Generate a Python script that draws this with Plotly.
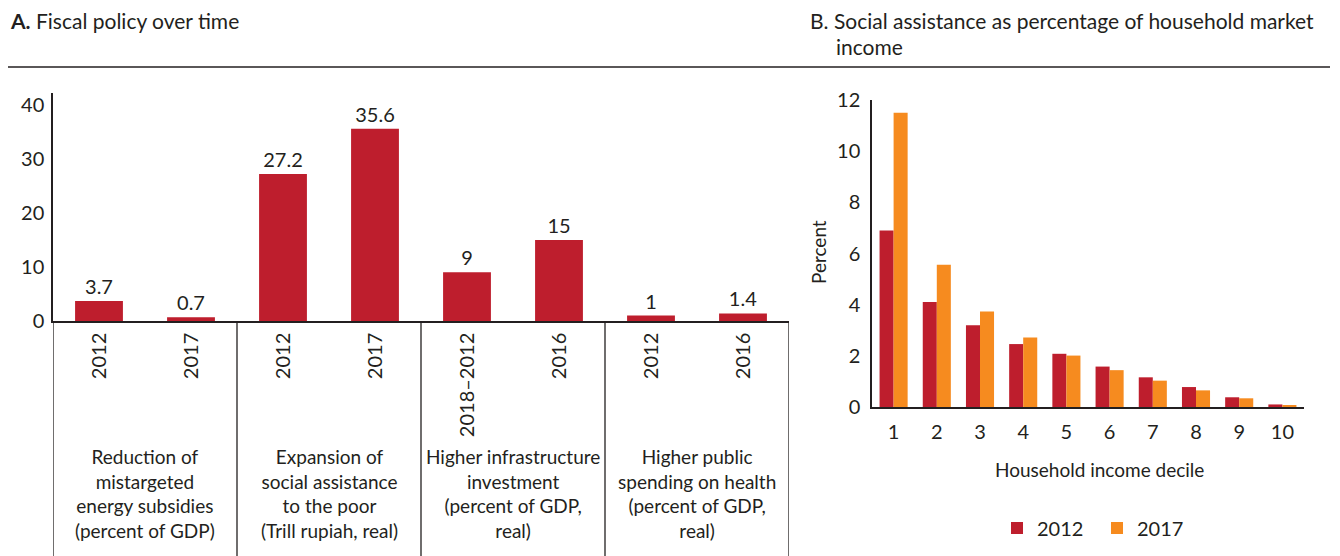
import plotly.graph_objects as go

W, H = 1340, 556
OFF = 8  # page body margin in the browser
FONT = "Lato"
INK = "#231F20"
RED = "#BE1E2D"
ORANGE = "#F68B1F"

# Panel A data
a_years = ["2012", "2017", "2012", "2017", "2018\u20132012", "2016", "2012", "2016"]
a_values = [3.7, 0.7, 27.2, 35.6, 9, 15, 1, 1.4]
a_labels = ["3.7", "0.7", "27.2", "35.6", "9", "15", "1", "1.4"]
a_groups = [
    "Reduction of<br>mistargeted<br>energy subsidies<br>(percent of GDP)",
    "Expansion of<br>social assistance<br>to the poor<br>(Trill rupiah, real)",
    "Higher infrastructure<br>investment<br>(percent of GDP,<br>real)",
    "Higher public<br>spending on health<br>(percent of GDP,<br>real)",
]

# Panel B data
deciles = ["1", "2", "3", "4", "5", "6", "7", "8", "9", "10"]
share_2012 = [6.9, 4.1, 3.2, 2.46, 2.08, 1.58, 1.16, 0.78, 0.38, 0.1]
share_2017 = [11.5, 5.56, 3.73, 2.72, 2.01, 1.44, 1.03, 0.65, 0.34, 0.07]


def px_x(x):
    return (x - OFF) / W


def px_y(y):
    return (H - (y - OFF)) / H


fig = go.Figure()

a_pos = list(range(len(a_values)))
fig.add_trace(go.Bar(
    x=a_pos, y=a_values, text=a_labels, textposition="outside",
    textfont=dict(family=FONT, size=20, color=INK), cliponaxis=False,
    marker=dict(color=RED, line=dict(width=0)), width=0.52,
    xaxis="x", yaxis="y", showlegend=False, hoverinfo="skip",
))

fig.add_trace(go.Bar(
    x=deciles, y=share_2012, name="2012", marker=dict(color=RED, line=dict(width=0)),
    xaxis="x2", yaxis="y2",
))
fig.add_trace(go.Bar(
    x=deciles, y=share_2017, name="2017", marker=dict(color=ORANGE, line=dict(width=0)),
    xaxis="x2", yaxis="y2",
))

tick_font = dict(family=FONT, size=20, color=INK)

fig.update_layout(
    width=W, height=H,
    margin=dict(l=0, r=0, t=0, b=0, autoexpand=False),
    paper_bgcolor="white", plot_bgcolor="white",
    font=dict(family=FONT, size=19, color=INK),
    barmode="group",
    bargap=0.35, bargroupgap=0,
    xaxis=dict(
        domain=[px_x(53), px_x(789)], range=[-0.5, 7.5],
        tickvals=a_pos, ticktext=a_years, tickangle=-90, tickfont=tick_font,
        showline=True, linecolor=INK, linewidth=1.5,
        showgrid=False, zeroline=False, ticks="", ticklabelstandoff=2,
        anchor="y",
    ),
    yaxis=dict(
        domain=[px_y(321), px_y(93)], range=[0, 42.2],
        tickvals=[0, 10, 20, 30, 40], tickfont=tick_font,
        showline=True, linecolor=INK, linewidth=1.5,
        showgrid=False, zeroline=False, ticks="", ticklabelstandoff=3,
        anchor="x",
    ),
    xaxis2=dict(
        domain=[px_x(872), px_x(1304)], tickfont=tick_font,
        showline=True, linecolor=INK, linewidth=1.5,
        showgrid=False, zeroline=False, ticks="", ticklabelstandoff=6,
        anchor="y2",
    ),
    yaxis2=dict(
        domain=[px_y(407), px_y(100)], range=[0, 12],
        tickvals=[0, 2, 4, 6, 8, 10, 12], tickfont=tick_font,
        showline=True, linecolor=INK, linewidth=1.5,
        showgrid=False, zeroline=False, ticks="", ticklabelstandoff=6,
        anchor="x2",
    ),
    legend=dict(
        orientation="h", x=px_x(997), y=px_y(528), yanchor="middle", xanchor="left",
        font=dict(family=FONT, size=20, color=INK), itemwidth=30,
        entrywidth=55, traceorder="normal",
    ),
)

# Vertical separators under panel A
for xv in [-0.5, 1.5, 3.5, 5.5, 7.5]:
    fig.add_shape(type="line", xref="x", yref="paper", x0=xv, x1=xv,
                  y0=0, y1=px_y(321), line=dict(color=INK, width=1.3))

# Group labels under panel A
for i, g in enumerate(a_groups):
    fig.add_annotation(x=2 * i + 0.5, y=px_y(443), xref="x", yref="paper",
                       text=g, showarrow=False, xanchor="center", yanchor="top",
                       align="center", font=dict(family=FONT, size=19, color=INK))

# Top rule
fig.add_shape(type="line", xref="paper", yref="paper", x0=px_x(8), x1=px_x(1330),
              y0=px_y(67), y1=px_y(67), line=dict(color=INK, width=1.3))

# Panel titles
title_font = dict(family=FONT, size=21, color=INK)
fig.add_annotation(x=px_x(8), y=px_y(20.5), xref="paper", yref="paper",
                   text="<b>A.</b> Fiscal policy over time", showarrow=False,
                   xanchor="left", yanchor="middle", font=title_font)
fig.add_annotation(x=px_x(808), y=px_y(20.5), xref="paper", yref="paper",
                   text="B. Social assistance as percentage of household market",
                   showarrow=False, xanchor="left", yanchor="middle", font=title_font)
fig.add_annotation(x=px_x(834), y=px_y(46.5), xref="paper", yref="paper",
                   text="income", showarrow=False, xanchor="left", yanchor="middle",
                   font=title_font)

# Panel B axis titles
fig.add_annotation(x=px_x(818), y=px_y(252), xref="paper", yref="paper",
                   text="Percent", textangle=-90, showarrow=False,
                   xanchor="center", yanchor="middle",
                   font=dict(family=FONT, size=19, color=INK))
fig.add_annotation(x=px_x(1099), y=px_y(470), xref="paper", yref="paper",
                   text="Household income decile", showarrow=False,
                   xanchor="center", yanchor="middle",
                   font=dict(family=FONT, size=19, color=INK))

fig.write_html("out.html")
